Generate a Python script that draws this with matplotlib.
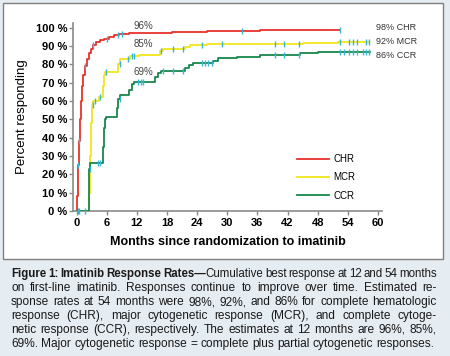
import numpy as np
import matplotlib
matplotlib.use('Agg')
import matplotlib.pyplot as plt
from matplotlib.patches import Rectangle

plt.rcParams['font.family'] = ['Liberation Sans', 'DejaVu Sans']

# step curves (months, percent responding)
chr_t = [0, 0.15, 0.3, 0.45, 0.6, 0.8, 1.0, 1.3, 1.6, 2.0, 2.4, 2.8, 3.2, 3.8, 4.6, 5.5, 6.5, 7.5, 8.4, 10.5, 14, 19, 26, 36.5, 52.4]
chr_v = [0, 8, 25, 38, 50, 60, 68, 74, 79, 83, 86, 88.5, 90.5, 92, 93, 93.8, 94.8, 95.7, 96.5, 96.8, 97.1, 97.5, 98, 98.5, 98.5]

mcr_t = [0, 2.55, 2.7, 2.85, 3.0, 3.3, 4.5, 5.3, 5.5, 5.7, 8.3, 8.7, 10.6, 12.5, 16.6, 17.2, 21.6, 22.5, 26, 35, 45, 52, 58.3]
mcr_v = [0, 10, 30, 48, 58, 60, 62, 68, 74, 76, 80, 83, 84.5, 85.3, 87, 88.3, 89.5, 90.3, 90.8, 91.3, 91.8, 92.4, 92.4]

ccr_t = [0, 2.55, 2.75, 5.2, 5.4, 5.6, 5.8, 8.0, 8.3, 8.7, 10.5, 11.0, 11.5, 15.6, 16.2, 16.8, 21.6, 22.3, 23.2, 27.2, 28.2, 32, 36.5, 44.5, 48, 58.4]
ccr_v = [0, 23, 26, 35, 45, 50, 51.5, 56, 61, 63.3, 66, 69.5, 70.5, 73, 75, 76.4, 78, 79.5, 80.5, 82, 83.3, 84.2, 85.1, 86, 86.8, 86.8]

# censoring times
chr_cens = [0.3, 0.5, 1.7, 3.2, 6.0, 8.3, 9.0, 33.0, 52.4]
mcr_cens = [3.2, 3.6, 4.6, 5.9, 8.6, 10.3, 11.0, 11.4, 16.9, 19.3, 21.2, 24.9, 29.0,
            39.5, 41.3, 44.2, 52.4, 54.2, 55.0, 55.9, 57.7, 58.3]
ccr_cens = [0.2, 0.5, 1.7, 2.7, 4.3, 4.6, 8.6, 12.3, 12.8, 13.3, 17.3, 19.3, 21.1,
            24.9, 25.5, 26.2, 26.9, 39.5, 41.3, 44.2, 52.4, 53.3, 54.2, 55.0, 55.9,
            57.0, 57.7, 58.3]

labels = ['CHR', 'MCR', 'CCR']
rates_12 = ['96%', '85%', '69%']
rates_54 = ['98%', '92%', '86%']

x_ticks = list(range(0, 61, 6))
y_ticks = list(range(0, 101, 10))

caption = [
    [[('Figure', 'bold')], [('1:', 'bold')], [('Imatinib', 'bold')], [('Response', 'bold')],
     [('Rates\u2014', 'bold'), ('Cumulative', 'normal')], 'best', 'response', 'at', '12', 'and', '54', 'months'],
    'on first-line imatinib. Responses continue to improve over time. Estimated re-',
    'sponse rates at 54 months were 98%, 92%, and 86% for complete hematologic',
    'response (CHR), major cytogenetic response (MCR), and complete cytoge-',
    'netic response (CCR), respectively. The estimates at 12 months are 96%, 85%,',
    '69%. Major cytogenetic response = complete plus partial cytogenetic responses.',
]

colors = ['#e8322b', '#f2e51c', '#17874a']
cens_color = '#35b6d3'
W, H = 450, 356

fig = plt.figure(figsize=(4.5, 3.56), dpi=100)
fig.patch.set_facecolor('#e5ecf2')
box = Rectangle((3 / W, 1 - 259 / H), 440 / W, 256 / H, transform=fig.transFigure,
                facecolor='white', edgecolor='#808080', lw=1, zorder=-10)
fig.patches.append(box)

ax = fig.add_axes([73 / W, 1 - 211 / H, 309 / W, 188 / H])
ax.set_facecolor('none')
ax.set_zorder(5)


def step_at(t, v, ts):
    idx = np.searchsorted(t, ts, side='right') - 1
    return np.array(v)[idx]


handles = []
curves = [(chr_t, chr_v, chr_cens), (mcr_t, mcr_v, mcr_cens), (ccr_t, ccr_v, ccr_cens)]
for (t, v, cens), c, lab in zip(curves, colors, labels):
    h, = ax.step(t, v, where='post', color=c, lw=1.3, label=lab, zorder=3)
    handles.append(h)
for (t, v, cens) in curves:
    ax.plot(cens, step_at(t, v, cens), ls='none', marker='|', ms=5, mew=1,
            color=cens_color, zorder=4, clip_on=False)

ax.set_xlim(-0.7, 60.8)
ax.set_ylim(0, 102.5)
ax.set_xticks(x_ticks)
ax.set_yticks(y_ticks)
ax.set_yticklabels([f'{v} %' for v in y_ticks])
for s in ['top', 'right']:
    ax.spines[s].set_visible(False)
for s in ['left', 'bottom']:
    ax.spines[s].set_color('#8a8a8a')
    ax.spines[s].set_linewidth(1.2)
ax.tick_params(direction='out', length=3, width=1, color='#8a8a8a', labelsize=8)
ax.tick_params(axis='x', pad=2)
ax.tick_params(axis='y', pad=1)
for lbl in ax.get_xticklabels() + ax.get_yticklabels():
    lbl.set_fontweight('bold')

ax.set_xlabel('Months since randomization to imatinib', fontsize=9, fontweight='bold', labelpad=6)
ax.set_ylabel('Percent responding', fontsize=9.5)
ax.yaxis.set_label_coords(-0.146, 0.5)

# 12-month estimates
for txt, y in zip(rates_12, [101.1, 90.9, 76.0]):
    ax.text(13.4, y, txt, fontsize=7, color='#444444', ha='center', va='center')
# 54-month estimates
for txt, lab, y in zip(rates_54, labels, [99.8, 92.4, 84.7]):
    ax.text(59.7, y, f'{txt} {lab}', fontsize=6.5, color='#333333', ha='left', va='center', clip_on=False)

ax.legend(handles, labels, loc='upper left', bbox_to_anchor=(297 / W, 1 - 154 / H),
          bbox_transform=fig.transFigure, frameon=False, fontsize=7, handlelength=3.3,
          handletextpad=0.45, labelspacing=0.85, borderpad=0, borderaxespad=0)

# justified caption
renderer = fig.canvas.get_renderer()
x_left, x_right = 11, 437
fs = 8.6
for i, line in enumerate(caption):
    words = line if isinstance(line, list) else line.split()
    words = [w if isinstance(w, list) else [(w, 'normal')] for w in words]
    y = 1 - (277.3 + 13.9 * i) / H
    size = fs
    last = i == len(caption) - 1
    while True:
        objs = []
        widths = []
        for w in words:
            segs = []
            for s, wt in w:
                t = fig.text(0, y, s, fontsize=size, fontweight=wt, color='#1a1a1a', va='baseline')
                segs.append((t, t.get_window_extent(renderer).width))
            objs.append(segs)
            widths.append(sum(sw for _, sw in segs))
        a2 = fig.text(0, 0, 'a a', fontsize=size)
        a1 = fig.text(0, 0, 'a', fontsize=size)
        space = a2.get_window_extent(renderer).width - 2 * a1.get_window_extent(renderer).width
        a2.remove()
        a1.remove()
        gap = (x_right - x_left - sum(widths)) / (len(words) - 1)
        if (gap >= 0.5 * space and not last) or (last and sum(widths) + space * (len(words) - 1) <= x_right - x_left):
            break
        for segs in objs:
            for t, _ in segs:
                t.remove()
        size -= 0.1
    if last:
        gap = space
    x = x_left
    for segs, wd in zip(objs, widths):
        xx = x
        for t, sw in segs:
            t.set_x(xx / W)
            xx += sw
        x += wd + gap

fig.savefig('out.png', dpi=100, facecolor=fig.get_facecolor())
